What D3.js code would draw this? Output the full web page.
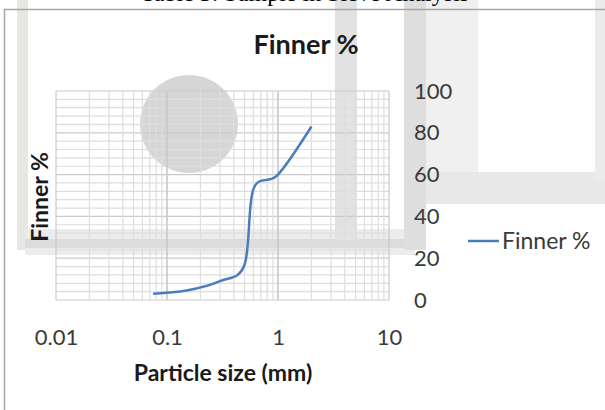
<!DOCTYPE html>
<html>
<head>
<meta charset="utf-8">
<script src="https://cdn.jsdelivr.net/npm/d3@7"></script>
<style>
  body { margin: 0; background: #fff; }
  svg { display: block; }
</style>
</head>
<body>
<div id="chart"></div>
<script>
// sieve analysis values
var sieveSizes = [2, 1, 0.6, 0.5, 0.3, 0.15, 0.075];
var finnerPct = [83, 60, 53, 17, 9, 4.5, 3];
var xTicks = [0.01, 0.1, 1, 10];
var yTicks = [0, 20, 40, 60, 80, 100];
var seriesName = "Finner %";

var width = 605, height = 410;
var plot = { left: 56, right: 389, top: 91, bottom: 300 };

var svg = d3.select("#chart").append("svg")
    .attr("width", width)
    .attr("height", height);

// background watermark from the scanned page
var wm = svg.append("g").attr("class", "watermark");
wm.append("rect").attr("x", 17).attr("y", 0).attr("width", 11).attr("height", 250).attr("fill", "#e6e6e2");
wm.append("rect").attr("x", 25).attr("y", 229).attr("width", 390).attr("height", 26).attr("fill", "#ececec");
wm.append("rect").attr("x", 25).attr("y", 239).attr("width", 390).attr("height", 9).attr("fill", "#dcdcdc");
wm.append("rect").attr("x", 335).attr("y", 0).attr("width", 22).attr("height", 240).attr("fill", "#e2e2e2");
wm.append("rect").attr("x", 404).attr("y", 0).attr("width", 22).attr("height", 250).attr("fill", "#dedede");
wm.append("rect").attr("x", 426).attr("y", 0).attr("width", 52).attr("height", 175).attr("fill", "#f0f0f0");
wm.append("rect").attr("x", 426).attr("y", 172).attr("width", 179).attr("height", 32).attr("fill", "#e8e8e8");
wm.append("rect").attr("x", 595).attr("y", 0).attr("width", 10).attr("height", 180).attr("fill", "#ebebeb");
wm.append("circle").attr("cx", 189).attr("cy", 124).attr("r", 49).attr("fill", "#d6d6d6");

// top caption, cut off by the crop
svg.append("text")
    .attr("x", 305).attr("y", 1)
    .attr("text-anchor", "middle")
    .style("font-family", "'Liberation Serif', serif")
    .style("font-size", "24px")
    .text("Table 3: Sample in Sieve Analysis");

// chart frame
svg.append("path")
    .attr("d", "M4.5," + height + "V9.5H" + width)
    .attr("fill", "none")
    .attr("stroke", "#a6a6a6")
    .attr("stroke-width", 1.5);

var x = d3.scaleLog().domain([0.01, 10]).range([plot.left, plot.right]);
var y = d3.scaleLinear().domain([0, 100]).range([plot.bottom, plot.top]);

// grid
var grid = svg.append("g").attr("class", "grid");
var minorY = d3.range(0, 101, 4);
grid.selectAll(".hminor").data(minorY).join("line")
    .attr("x1", plot.left).attr("x2", plot.right)
    .attr("y1", d => y(d)).attr("y2", d => y(d))
    .attr("stroke", d => d % 20 == 0 ? "#cacaca" : "#dedede")
    .attr("stroke-width", 1.2);

var minorX = [];
[0.01, 0.1, 1].forEach(function (dec) {
    for (var k = 1; k <= 10; k++) minorX.push(dec * k);
});
grid.selectAll(".vminor").data(minorX).join("line")
    .attr("x1", d => x(d)).attr("x2", d => x(d))
    .attr("y1", plot.top).attr("y2", plot.bottom)
    .attr("stroke", function (d) {
        var l = Math.log10(d);
        return Math.abs(l - Math.round(l)) < 1e-6 ? "#cacaca" : "#dedede";
    })
    .attr("stroke-width", 1.2);

// axes
var xAxis = svg.append("g")
    .attr("transform", "translate(0," + plot.bottom + ")")
    .call(d3.axisBottom(x).tickValues(xTicks).tickSize(0).tickPadding(29)
        .tickFormat(d => d3.format("~g")(d)));
xAxis.select(".domain").remove();

var yAxis = svg.append("g")
    .attr("transform", "translate(" + plot.right + ",0)")
    .call(d3.axisRight(y).tickValues(yTicks).tickSize(0).tickPadding(25));
yAxis.select(".domain").remove();

svg.selectAll(".tick text")
    .style("font-family", "Lato, sans-serif")
    .style("font-size", "22px")
    .attr("fill", "#3a3a3a");

// series line
var pts = sieveSizes.map((s, i) => [s, finnerPct[i]]).sort((a, b) => a[0] - b[0]);
var line = d3.line()
    .x(d => x(d[0]))
    .y(d => y(d[1]))
    .curve(d3.curveCardinal.tension(0));

svg.append("path")
    .datum(pts)
    .attr("d", line)
    .attr("fill", "none")
    .attr("stroke", "#4a7ebb")
    .attr("stroke-width", 2.5);

// titles
svg.append("text")
    .attr("x", 306).attr("y", 54)
    .attr("text-anchor", "middle")
    .style("font-family", "Lato, sans-serif")
    .style("font-weight", "bold")
    .style("font-size", "27px")
    .attr("fill", "#1a1a1a")
    .text(seriesName);

svg.append("text")
    .attr("transform", "translate(48,197) rotate(-90)")
    .attr("text-anchor", "middle")
    .style("font-family", "Lato, sans-serif")
    .style("font-weight", "bold")
    .style("font-size", "23px")
    .attr("fill", "#1a1a1a")
    .text(seriesName);

svg.append("text")
    .attr("x", 223).attr("y", 381)
    .attr("text-anchor", "middle")
    .style("font-family", "Lato, sans-serif")
    .style("font-weight", "bold")
    .style("font-size", "23px")
    .attr("fill", "#1a1a1a")
    .text("Particle size (mm)");

// legend
var legend = svg.append("g").attr("transform", "translate(468,241)");
legend.append("line")
    .attr("x1", 0).attr("x2", 31)
    .attr("stroke", "#4a7ebb")
    .attr("stroke-width", 2.5);
legend.append("text")
    .attr("x", 34).attr("dy", "0.35em")
    .style("font-family", "Lato, sans-serif")
    .style("font-size", "23px")
    .attr("fill", "#3a3a3a")
    .text(seriesName);
</script>
</body>
</html>
